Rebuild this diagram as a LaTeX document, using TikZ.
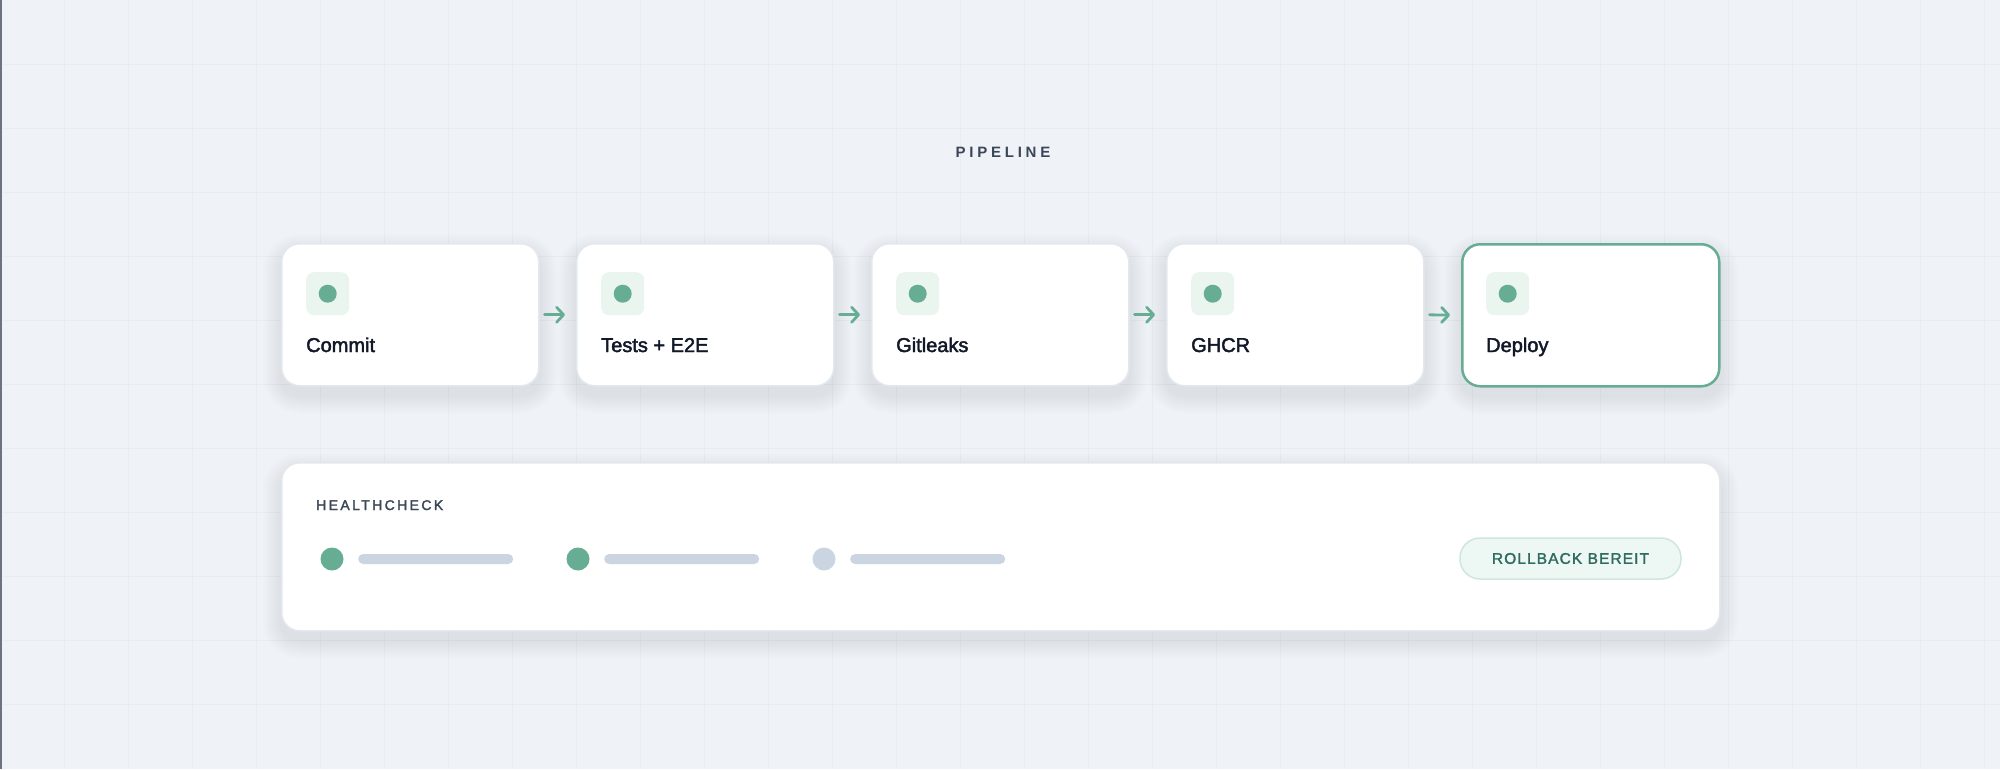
\documentclass[tikz,border=0pt]{standalone}
\usepackage{fontspec}
\setmainfont{Liberation Sans}
\newfontfamily\medfont{Liberation Sans}[FakeBold=2.2]
\newfontfamily\capsfont{Liberation Sans}[FakeBold=2.0,LetterSpace=17]
\newfontfamily\pillfont{Liberation Sans}[FakeBold=1.8,LetterSpace=7]
\newfontfamily\titlefont{Liberation Sans Bold}[LetterSpace=25]
\usetikzlibrary{arrows.meta,calc}
\pgfdeclarelayer{bglayer}
\pgfdeclarelayer{shadowlayer}
\pgfsetlayers{bglayer,shadowlayer,main}
\definecolor{bgc}{HTML}{EFF3F8}
\definecolor{gridc}{HTML}{E7ECF2}
\definecolor{edgec}{HTML}{6B7280}
\definecolor{cardline}{HTML}{E3E8EF}
\definecolor{greenc}{HTML}{66AD94}
\definecolor{iconbg}{HTML}{EAF5F0}
\definecolor{inkc}{HTML}{111827}
\definecolor{labelc}{HTML}{3B4656}
\definecolor{barc}{HTML}{CBD5E1}
\definecolor{pillfill}{HTML}{EDF7F3}
\definecolor{pillline}{HTML}{CFE6DC}
\definecolor{pilltext}{HTML}{2F6B5E}
\definecolor{shadowc}{HTML}{1E293B}
\tikzset{
  stagebox/.style={draw=cardline, line width=1.5pt, fill=white, rounded corners=18pt,
    minimum width=257pt, minimum height=142pt, inner sep=0pt, anchor=north west},
  activebox/.style={stagebox, draw=greenc, line width=2.5pt},
  iconbox/.style={fill=iconbg, rounded corners=8pt, minimum width=43pt, minimum height=43pt,
    inner sep=0pt, anchor=north west},
  dotc/.style={circle, fill=greenc, minimum size=18pt, inner sep=0pt},
  stagelabel/.style={anchor=base west, inner sep=0pt, text=inkc,
    font=\medfont\fontsize{20}{24}\selectfont},
  flow/.style={draw=greenc, line width=2.8pt, line cap=round,
    -{Straight Barb[length=7pt,width=15pt,line cap=round,line join=round]},
    shorten <=5pt, shorten >=11pt},
  hdot/.style={circle, minimum size=23pt, inner sep=0pt},
  hbar/.style={fill=barc, rounded corners=5pt, minimum width=155pt, minimum height=10pt, inner sep=0pt, anchor=west},
}
\newcommand\cardshadow[1]{%
  \begin{pgfonlayer}{shadowlayer}
  \foreach \k in {1,...,18}{
    \fill[shadowc, opacity=0.0042, rounded corners=18pt+\k pt]
      ($(#1.north west)+(-\k,-\k+9)$) rectangle ($(#1.south east)+(\k,\k+9)$);
  }
  \end{pgfonlayer}}
\begin{document}
\begin{tikzpicture}[x=1pt,y=-1pt]
\useasboundingbox (0,0) rectangle (2000,769);
\begin{pgfonlayer}{bglayer}
\fill[bgc] (0,0) rectangle (2000,769);
\foreach \gx in {64,128,...,1990} \draw[gridc, line width=1pt] (\gx,0) -- (\gx,769);
\foreach \gy in {64,128,...,760} \draw[gridc, line width=1pt] (0,\gy) -- (2000,\gy);
\draw[edgec, line width=2pt] (1,0) -- (1,769);
\end{pgfonlayer}

% title
\node[text=labelc, font=\titlefont\fontsize{15}{18}\selectfont] (title) at (1003,152) {PIPELINE};

% stages
\node[stagebox] (c1) at (281,243) {};
\node[stagebox] (c2) at (576,243) {};
\node[stagebox] (c3) at (871,243) {};
\node[stagebox] (c4) at (1166,243) {};
\node[activebox] (c5) at (1461,243) {};
\cardshadow{c1}\cardshadow{c2}\cardshadow{c3}\cardshadow{c4}\cardshadow{c5}

\foreach \i/\x/\t in {1/281/Commit, 2/576/Tests + E2E, 3/871/Gitleaks, 4/1166/GHCR, 5/1461/Deploy}{
  \node[iconbox] (i\i) at (\x+25,272) {};
  \node[dotc] (d\i) at (i\i.center) {};
  \node[stagelabel] (t\i) at (\x+25,352) {\t};
}

\draw[flow] (c1.east) -- (c2.west);
\draw[flow] (c2.east) -- (c3.west);
\draw[flow] (c3.east) -- (c4.west);
\draw[flow] (c4.east) -- (c5.west);

% healthcheck panel
\node[stagebox, minimum width=1438pt, minimum height=168pt] (hc) at (281,462) {};
\cardshadow{hc}
\node[anchor=base west, inner sep=0pt, text=labelc, font=\capsfont\fontsize{14}{17}\selectfont] (hct) at (316,510) {HEALTHCHECK};

\node[hdot, fill=greenc] (h1) at (332,559) {};
\node[hbar] (b1) at (358,559) {};
\node[hdot, fill=greenc] (h2) at (578,559) {};
\node[hbar] (b2) at (604,559) {};
\node[hdot, fill=barc] (h3) at (824,559) {};
\node[hbar] (b3) at (850,559) {};

\node[draw=pillline, fill=pillfill, line width=1.5pt, rounded corners=20pt,
  minimum width=221pt, minimum height=41pt, inner sep=0pt,
  text=pilltext, font=\pillfont\fontsize{15.5}{18}\selectfont] (pill) at (1570.5,558.5) {ROLLBACK BEREIT};
\end{tikzpicture}
\end{document}
